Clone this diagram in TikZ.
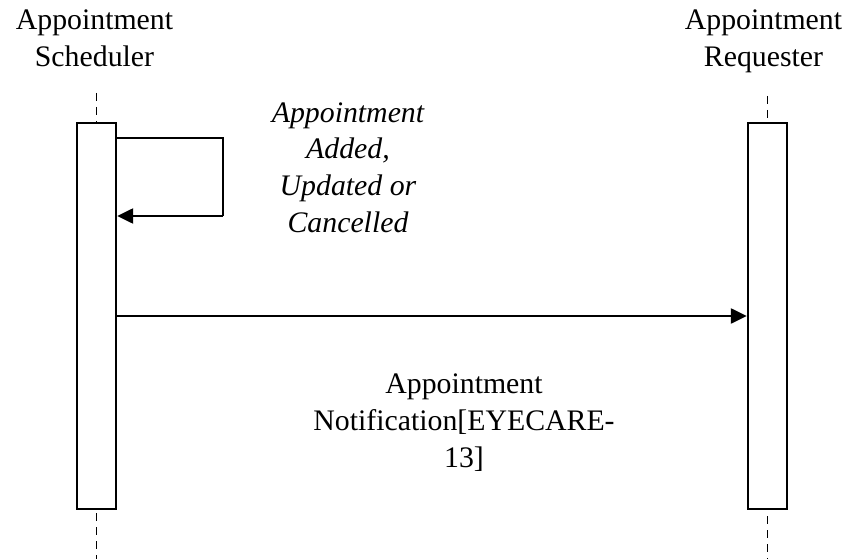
\documentclass[tikz,border=0pt]{standalone}
\usepackage{fontspec}
\setmainfont{Liberation Serif}
\usetikzlibrary{arrows.meta}
\begin{document}
\begin{tikzpicture}[x=1pt,y=-1pt,
  lbl/.style={align=center,inner sep=0pt,font=\fontsize{29.8}{37}\selectfont},
  actbox/.style={draw,line width=2.4pt,fill=white},
  life/.style={line width=1.8pt,dash pattern=on 8pt off 6pt},
  msg/.style={line width=2.4pt,-{Triangle[length=16pt,width=15pt]}}]
\useasboundingbox (0,0) rectangle (849,559);
% lifelines
\coordinate (lt) at (96.5,93);
\coordinate (lb) at (96.5,559);
\coordinate (rt) at (767.5,96);
\coordinate (rb) at (767.5,559);
\draw[life] (lt) -- (lb);
\draw[life] (rt) -- (rb);
% activation boxes
\node[actbox,minimum width=39pt,minimum height=386pt,inner sep=0pt] (la) at (96.5,316) {};
\node[actbox,minimum width=39pt,minimum height=386pt,inner sep=0pt] (ra) at (767.5,316) {};
% headers
\node[lbl,anchor=base] (sched) at (94.5,67) {Appointment\\Scheduler};
\node[lbl,anchor=base] (req) at (763.5,67) {Appointment\\Requester};
% self message
\coordinate (s1) at (223,138);
\coordinate (s2) at (223,216);
\draw[line width=2.4pt] (la.east |- s1) -- (s1) -- (s2);
\draw[msg] (s2) -- (la.east |- s2);
\node[lbl,anchor=base,font=\fontsize{29.8}{37}\itshape] (self) at (348,233) {Appointment\\Added,\\Updated or\\Cancelled};
% main message
\coordinate (m) at (0,316);
\draw[msg] (la.east |- m) -- (ra.west |- m);
\node[lbl,anchor=base] (note) at (464,467) {Appointment\\Notification[EYECARE-\\13]};
\end{tikzpicture}
\end{document}
